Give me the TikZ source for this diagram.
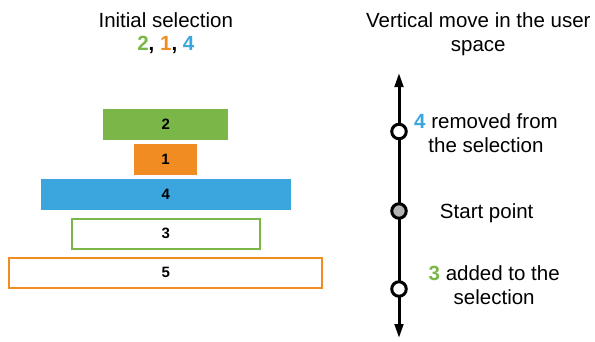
\documentclass[tikz,border=0pt]{standalone}
\usepackage{fontspec}
\setmainfont{Liberation Sans}
\usetikzlibrary{arrows.meta}
\definecolor{selgreen}{HTML}{7AB648}
\definecolor{selorange}{HTML}{F08C21}
\definecolor{selblue}{HTML}{3AA6DD}
\definecolor{startgrey}{HTML}{B3B3B3}
\begin{document}
\begin{tikzpicture}[x=1pt,y=-1pt,
  txt/.style={inner sep=0pt,anchor=base,font=\fontsize{20.5}{24.5}\selectfont},
  layer/.style={inner sep=0pt,minimum height=31pt,font=\fontsize{15}{17}\selectfont\bfseries},
  filled/.style={layer,fill=#1,draw=none},
  outlined/.style={layer,draw=#1,line width=2pt,minimum height=30pt},
  marker/.style={circle,draw=black,line width=3pt,minimum size=14.5pt,inner sep=0pt,fill=#1},
  axis/.style={line width=3pt,{Triangle[length=14pt,width=8.5pt]}-{Triangle[length=14pt,width=8.5pt]}}
]
\useasboundingbox (0,0) rectangle (595,341);

% left column: stacked layers
\node[txt] (title) at (165.8,27.7) {Initial selection};
\node[txt,font=\fontsize{20.5}{24.5}\selectfont\bfseries] (initsel) at (165.8,50.7)
  {\textcolor{selgreen}{2}, \textcolor{selorange}{1}, \textcolor{selblue}{4}};

\node[filled=selgreen,minimum width=125pt] (l2) at (165.8,124.2) {2};
\node[filled=selorange,minimum width=62.4pt] (l1) at (165.5,159.5) {1};
\node[filled=selblue,minimum width=250.3pt] (l4) at (165.8,194.7) {4};
\node[outlined=selgreen,minimum width=188.3pt] (l3) at (165.8,233.6) {3};
\node[outlined=selorange,minimum width=313.3pt] (l5) at (165.7,272.7) {5};

% right column: vertical move axis
\node[txt] (head1) at (478.3,27.7) {Vertical move in the user};
\node[txt] (head2) at (478.3,51.9) {space};

\coordinate (top) at (399,73);
\coordinate (bottom) at (399,338);
\draw[axis] (bottom) -- (top);

\node[marker=white] (removed) at (399,131.5) {};
\node[marker=startgrey] (start) at (399,211) {};
\node[marker=white] (added) at (399,289) {};

\node[txt] (rem1) at (486,128.3) {\textcolor{selblue}{\bfseries 4} removed from};
\node[txt] (rem2) at (486,152.7) {the selection};
\node[txt] (st) at (486.7,218.3) {Start point};
\node[txt] (add1) at (494.2,280.3) {\textcolor{selgreen}{\bfseries 3} added to the};
\node[txt] (add2) at (494.2,304.7) {selection};
\end{tikzpicture}
\end{document}
